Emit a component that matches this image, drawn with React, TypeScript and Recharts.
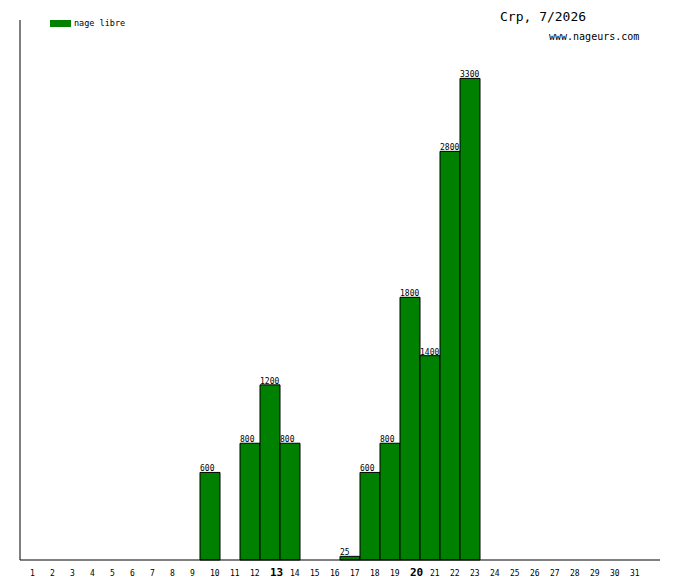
import React from "react";
import { BarChart, Bar, XAxis, YAxis, LabelList } from "recharts";

const days = [
  "1", "2", "3", "4", "5", "6", "7", "8", "9", "10", "11", "12", "13", "14", "15", "16",
  "17", "18", "19", "20", "21", "22", "23", "24", "25", "26", "27", "28", "29", "30", "31",
];
// nage libre, one value per day (null = no bar)
const nageLibre = [
  null, null, null, null, null, null, null, null, null, 600, null, 800, 1200, 800, null, null,
  25, 600, 800, 1800, 1400, 2800, 3300, null, null, null, null, null, null, null, null,
];
const boldDays = ["13", "20"];
const title = "Crp, 7/2026";
const site = "www.nageurs.com";
const seriesName = "nage libre";

const GREEN = "#008000";
const MONO = "'DejaVu Sans Mono', monospace";

const chartData = days.map((d, i) => ({ day: d, value: nageLibre[i] }));

function DayTick(props: any) {
  const { x, y, payload } = props;
  const bold = boldDays.includes(payload.value);
  return (
    <text
      x={x}
      y={y + 16}
      textAnchor="start"
      fontFamily={MONO}
      fontSize={bold ? 11 : 8}
      fontWeight={bold ? "bold" : "normal"}
      fill="#000"
    >
      {payload.value}
    </text>
  );
}

function ValueLabel(props: any) {
  const { x, y, value } = props;
  if (value == null) return null;
  return (
    <text x={x} y={y - 1} textAnchor="start" fontFamily={MONO} fontSize={8} fill="#000">
      {value}
    </text>
  );
}

export default function App() {
  return (
    <div style={{ position: "absolute", left: 0, top: 0, width: 680, height: 580, background: "#fff" }}>
      <BarChart
        width={680}
        height={580}
        data={chartData}
        margin={{ top: 20, right: 20, bottom: 0, left: 19 }}
        barCategoryGap={0}
      >
        <XAxis
          dataKey="day"
          interval={0}
          height={20}
          tickLine={false}
          tickSize={0}
          tickMargin={0}
          axisLine={{ stroke: "#000" }}
          tick={<DayTick />}
          padding={{ left: 0, right: 20 }}
        />
        <YAxis
          width={1}
          domain={[0, 3700]}
          tick={false}
          tickLine={false}
          axisLine={{ stroke: "#000" }}
        />
        <Bar dataKey="value" name={seriesName} fill={GREEN} stroke="#000" strokeWidth={1} isAnimationActive={false}>
          <LabelList dataKey="value" content={<ValueLabel />} />
        </Bar>
      </BarChart>
      {/* legend */}
      <div
        style={{
          position: "absolute",
          left: 50,
          top: 18,
          display: "flex",
          alignItems: "center",
          fontFamily: MONO,
          fontSize: 8.5,
          lineHeight: "10px",
        }}
      >
        <span style={{ display: "inline-block", width: 21, height: 7, background: GREEN, marginRight: 3 }} />
        <span>{seriesName}</span>
      </div>
      <div style={{ position: "absolute", left: 500, top: 10, fontFamily: MONO, fontSize: 13, lineHeight: "14px" }}>
        {title}
      </div>
      <div style={{ position: "absolute", left: 549, top: 31, fontFamily: MONO, fontSize: 10, lineHeight: "12px" }}>
        {site}
      </div>
    </div>
  );
}
